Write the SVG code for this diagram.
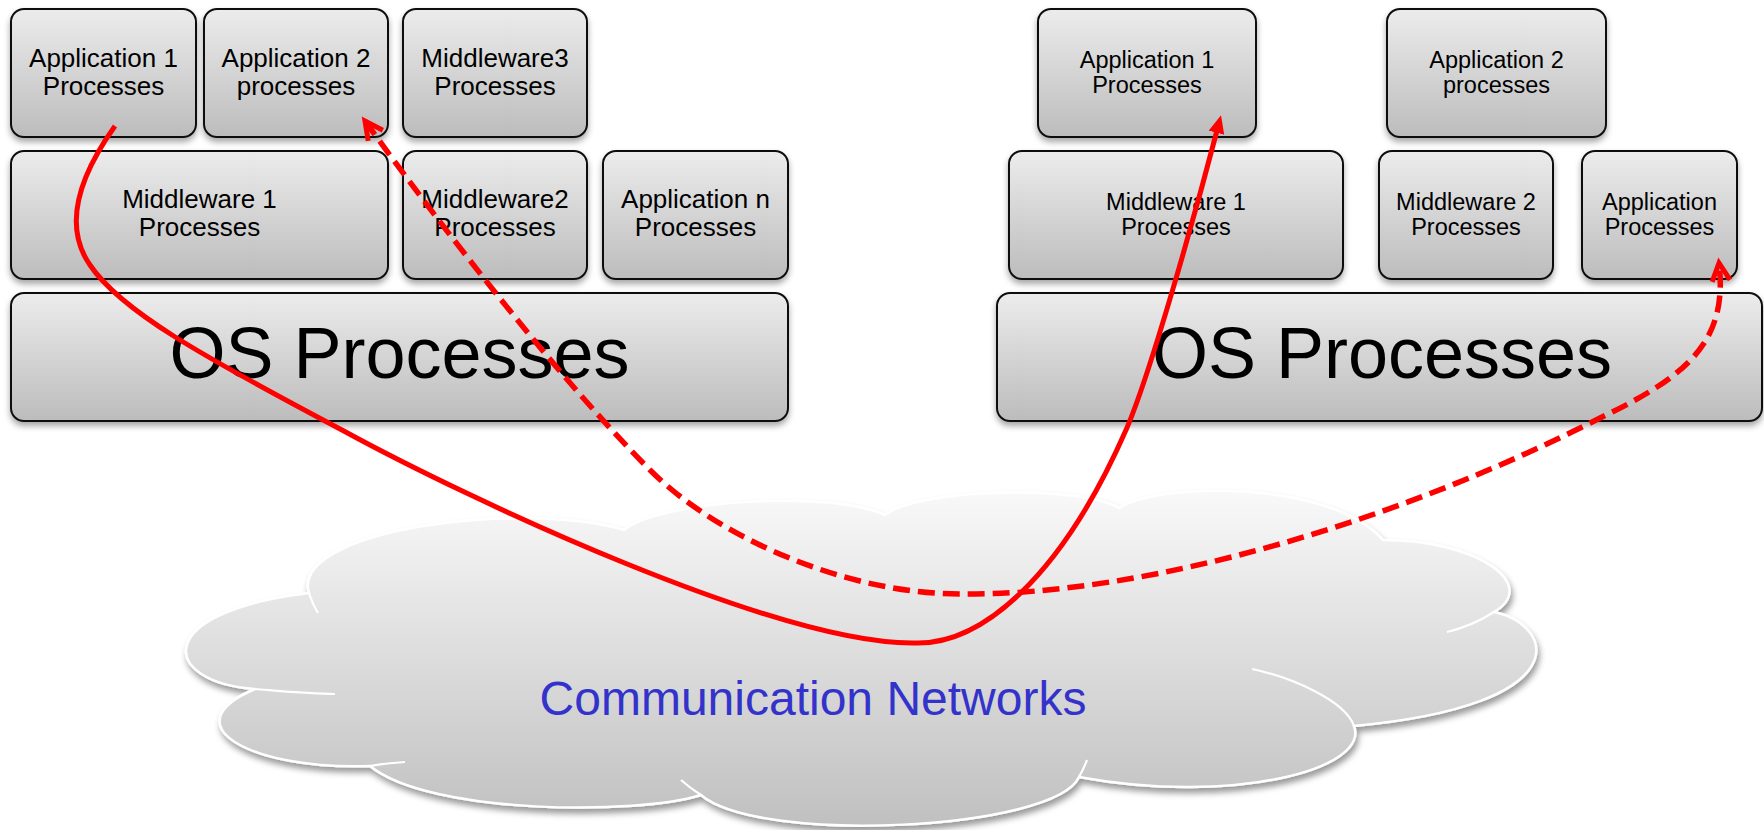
<svg xmlns="http://www.w3.org/2000/svg" width="1764" height="830" viewBox="0 0 1764 830">
  <style>
    .box { fill: url(#boxFill); stroke: #111; stroke-width: 2; filter: url(#boxShadow); }
    .lbl { font-family: "Liberation Sans", Arial, sans-serif; font-size: 26px; text-anchor: middle; fill: #000; }
    .lblR { font-size: 23.5px; }
    .os { font-size: 72px; }
    .net { font-family: "Liberation Sans", Arial, sans-serif; font-size: 48px; text-anchor: middle; fill: #3333cc; }
    .cloud { fill: url(#cloudFill); stroke: #ffffff; stroke-width: 2.5; filter: url(#cloudShadow); }
    .seam { fill: none; stroke: #ffffff; stroke-width: 2.2; }
    .link { fill: none; stroke: #ff0000; stroke-width: 5; }
    .dash { stroke-width: 5.5; stroke-dasharray: 17 8; }
  </style>
  <defs>
    <linearGradient id="boxFill" x1="0" y1="0" x2="0" y2="1">
      <stop offset="0" stop-color="#ececec"/>
      <stop offset="1" stop-color="#bcbcbc"/>
    </linearGradient>
    <linearGradient id="cloudFill" gradientUnits="userSpaceOnUse" x1="0" y1="490" x2="0" y2="830">
      <stop offset="0" stop-color="#f9f9f9"/>
      <stop offset="1" stop-color="#bfbfbf"/>
    </linearGradient>
    <filter id="boxShadow" x="-10%" y="-10%" width="120%" height="135%">
      <feDropShadow dx="0" dy="4" stdDeviation="3" flood-color="#000" flood-opacity="0.35"/>
    </filter>
    <filter id="cloudShadow" x="-5%" y="-5%" width="110%" height="115%">
      <feDropShadow dx="2" dy="5" stdDeviation="3" flood-color="#000" flood-opacity="0.4"/>
    </filter>
    <marker id="arrowSolid" viewBox="0 0 18 16" refX="10" refY="8" markerWidth="18" markerHeight="16" markerUnits="userSpaceOnUse" orient="auto">
      <path d="M0,0 L18,8 L0,16 Z" fill="#ff0000"/>
    </marker>
    <marker id="arrowOpen" viewBox="-4 -4 28 26" refX="18" refY="9" markerWidth="28" markerHeight="26" markerUnits="userSpaceOnUse" orient="auto-start-reverse">
      <path d="M0,0 L18,9 L0,18" fill="none" stroke="#ff0000" stroke-width="5" stroke-linejoin="miter" stroke-dasharray="none"/>
    </marker>
  </defs>

  <!-- network cloud -->
  <g id="network">
    <path class="cloud" d="M309,593 C290,530 520,500 624,530 C660,500 830,490 885,515 C920,488 1080,485 1119,508 C1160,482 1330,480 1383,540 C1478,540 1540,585 1494,612 C1555,625 1580,705 1354,726 C1370,770 1230,805 1079,777 C1055,830 760,845 701,795 C640,815 430,815 370,766 C250,770 170,725 255,689 C160,682 150,612 309,593 Z"/>
    <path class="seam" d="M309,593 Q313,605 318,613"/>
    <path class="seam" d="M255,689 C280,691 310,694 335,694"/>
    <path class="seam" d="M370,766 Q387,763 405,762"/>
    <path class="seam" d="M701,795 Q690,788 681,780"/>
    <path class="seam" d="M1079,777 Q1084,768 1087,760"/>
    <path class="seam" d="M1252,669 C1290,677 1345,700 1354,726"/>
    <path class="seam" d="M1494,612 Q1472,626 1447,632"/>
    <text class="net" x="813" y="715">Communication Networks</text>
  </g>

  <!-- left host -->
  <g id="l-app1">
    <rect class="box" x="11" y="9" width="185" height="128" rx="13"/>
    <text class="lbl" x="103.5" y="67">Application 1</text>
    <text class="lbl" x="103.5" y="95">Processes</text>
  </g>
  <g id="l-app2">
    <rect class="box" x="204" y="9" width="184" height="128" rx="13"/>
    <text class="lbl" x="296" y="67">Application 2</text>
    <text class="lbl" x="296" y="95">processes</text>
  </g>
  <g id="l-mw3">
    <rect class="box" x="403" y="9" width="184" height="128" rx="13"/>
    <text class="lbl" x="495" y="67">Middleware3</text>
    <text class="lbl" x="495" y="95">Processes</text>
  </g>
  <g id="l-mw1">
    <rect class="box" x="11" y="151" width="377" height="128" rx="13"/>
    <text class="lbl" x="199.5" y="208">Middleware 1</text>
    <text class="lbl" x="199.5" y="236">Processes</text>
  </g>
  <g id="l-mw2">
    <rect class="box" x="403" y="151" width="184" height="128" rx="13"/>
    <text class="lbl" x="495" y="208">Middleware2</text>
    <text class="lbl" x="495" y="236">Processes</text>
  </g>
  <g id="l-appn">
    <rect class="box" x="603" y="151" width="185" height="128" rx="13"/>
    <text class="lbl" x="695.5" y="208">Application n</text>
    <text class="lbl" x="695.5" y="236">Processes</text>
  </g>
  <g id="l-os">
    <rect class="box" x="11" y="293" width="777" height="128" rx="13"/>
    <text class="lbl os" x="399.5" y="378">OS Processes</text>
  </g>

  <!-- right host -->
  <g id="r-app1">
    <rect class="box" x="1038" y="9" width="218" height="128" rx="13"/>
    <text class="lbl lblR" x="1147" y="68">Application 1</text>
    <text class="lbl lblR" x="1147" y="93">Processes</text>
  </g>
  <g id="r-app2">
    <rect class="box" x="1387" y="9" width="219" height="128" rx="13"/>
    <text class="lbl lblR" x="1496.5" y="68">Application 2</text>
    <text class="lbl lblR" x="1496.5" y="93">processes</text>
  </g>
  <g id="r-mw1">
    <rect class="box" x="1009" y="151" width="334" height="128" rx="13"/>
    <text class="lbl lblR" x="1176" y="210">Middleware 1</text>
    <text class="lbl lblR" x="1176" y="235">Processes</text>
  </g>
  <g id="r-mw2">
    <rect class="box" x="1379" y="151" width="174" height="128" rx="13"/>
    <text class="lbl lblR" x="1466" y="210">Middleware 2</text>
    <text class="lbl lblR" x="1466" y="235">Processes</text>
  </g>
  <g id="r-app">
    <rect class="box" x="1582" y="151" width="155" height="128" rx="13"/>
    <text class="lbl lblR" x="1659.5" y="210">Application</text>
    <text class="lbl lblR" x="1659.5" y="235">Processes</text>
  </g>
  <g id="r-os">
    <rect class="box" x="997" y="293" width="765" height="128" rx="13"/>
    <text class="lbl os" x="1382" y="378">OS Processes</text>
  </g>

  <!-- message paths -->
  <g id="connectors">
    <path class="link" marker-end="url(#arrowSolid)" d="M115,126 C80,175 62,225 90,265 C120,310 200,355 342,430 C470,500 780,645 915,643 C980,645 1060,580 1126,430 C1150,375 1195,215 1219,123"/>
    <path class="link dash" marker-start="url(#arrowOpen)" marker-end="url(#arrowOpen)" d="M365,121 C440,225 560,380 650,470 C720,540 850,594 960,594 C1150,596 1400,520 1600,418 C1690,375 1728,340 1719,263"/>
  </g>
</svg>
